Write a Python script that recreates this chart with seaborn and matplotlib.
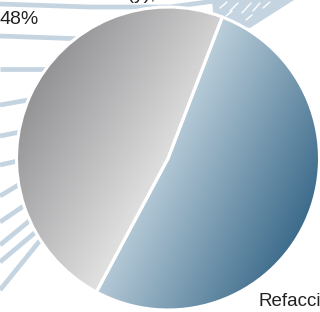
import numpy as np
import matplotlib
matplotlib.use("Agg")
import matplotlib.pyplot as plt
from matplotlib.colors import LinearSegmentedColormap
import seaborn as sns

# ---- data ----
categories = ["Mano de obra", "Refacciones"]
values = [48, 52]
pct_labels = ["48%", "52%"]

# gradient colours (start -> end) per slice
grad_colors = [("#939395", "#e2e2e3"), ("#bccfdb", "#3c6b8b")]
grad_dirs = [(1.0, -0.6), (1.0, -0.5)]  # in data coords (y up)

sns.set_theme(style="white")
plt.rcParams["font.family"] = ["Liberation Sans", "DejaVu Sans"]

W, H = 320, 312
fig = plt.figure(figsize=(W / 100, H / 100), dpi=100)
ax = fig.add_axes([0, 0, 1, 1])

def img(x, y):
    return (x, H - y)

# decorative background flow lines (image coords)
bg_lines = [
    [(0, 4), (90, 7), (170, 7), (215, 1), (230, -4)],
    [(0, 36), (85, 39)],
    [(0, 69), (55, 69)],
    [(0, 105), (45, 97)],
    [(0, 136), (35, 129)],
    [(0, 165), (35, 157)],
    [(0, 196), (35, 175)],
    [(0, 222), (40, 195)],
    [(0, 245), (45, 208)],
    [(0, 262), (50, 220)],
    [(0, 290), (55, 222)],
]
line_col = "#c5d4e1"
for seg in bg_lines:
    pts = np.array([img(*p) for p in seg])
    ax.plot(pts[:, 0], pts[:, 1], color=line_col, lw=3.4, solid_capstyle="butt", zorder=0)

band = np.array([img(*p) for p in [(212, 0), (294, 0), (250, 28), (214, 24)]])
ax.fill(band[:, 0], band[:, 1], color=line_col, lw=0, zorder=0)
dashes = [[(220, 8), (227, 2)], [(230, 11), (238, 3)], [(242, 13), (251, 3)],
          [(253, 11), (260, 3)], [(263, 8), (270, 2)], [(226, 16), (232, 11)],
          [(246, 20), (252, 15)]]
for d in dashes:
    pts = np.array([img(*p) for p in d])
    ax.plot(pts[:, 0], pts[:, 1], color="white", lw=1.0, zorder=0.5)

# pie
cx, cy = 168, H - 158.5
R = 151.5
wedges, _ = ax.pie(values, startangle=69, counterclock=True, center=(cx, cy), radius=R,
                   wedgeprops=dict(facecolor="none", edgecolor="white", linewidth=2.2),
                   frame=True)

n = 400
xs = np.linspace(cx - R, cx + R, n)
ys = np.linspace(cy - R, cy + R, n)
XX, YY = np.meshgrid(xs, ys)
pts = np.column_stack([XX.ravel(), YY.ravel()])
for w, (c0, c1), (ux, uy) in zip(wedges, grad_colors, grad_dirs):
    w.set_zorder(3)
    proj = (XX - cx) * ux + (YY - cy) * uy
    inside = w.get_transform().transform_path(w.get_path()).contains_points(
        ax.transData.transform(pts))
    inside = inside.reshape(XX.shape)
    pmin, pmax = proj[inside].min(), proj[inside].max()
    t = np.clip((proj - pmin) / (pmax - pmin), 0, 1)
    cmap = LinearSegmentedColormap.from_list("g", [c0, c1])
    im = ax.imshow(t, cmap=cmap, extent=(cx - R, cx + R, cy - R, cy + R), origin="lower",
                   zorder=2, interpolation="bilinear", aspect="auto")
    im.set_clip_path(w)

# labels
ax.text(1, H + 1, categories[0] + " (y),", fontsize=14, color="#222222",
        ha="left", va="baseline", zorder=5)
ax.text(0, H - 24, pct_labels[0], fontsize=14, color="#222222",
        ha="left", va="baseline", zorder=5)
ax.text(258, H - 305, categories[1] + ",", fontsize=13.5, color="#222222",
        ha="left", va="baseline", zorder=5)
ax.text(258, H - 327, pct_labels[1], fontsize=13.5, color="#222222",
        ha="left", va="baseline", zorder=5)

ax.set_xlim(0, W)
ax.set_ylim(0, H)
ax.set_aspect("auto")
ax.axis("off")
fig.savefig("out.png", dpi=100)
